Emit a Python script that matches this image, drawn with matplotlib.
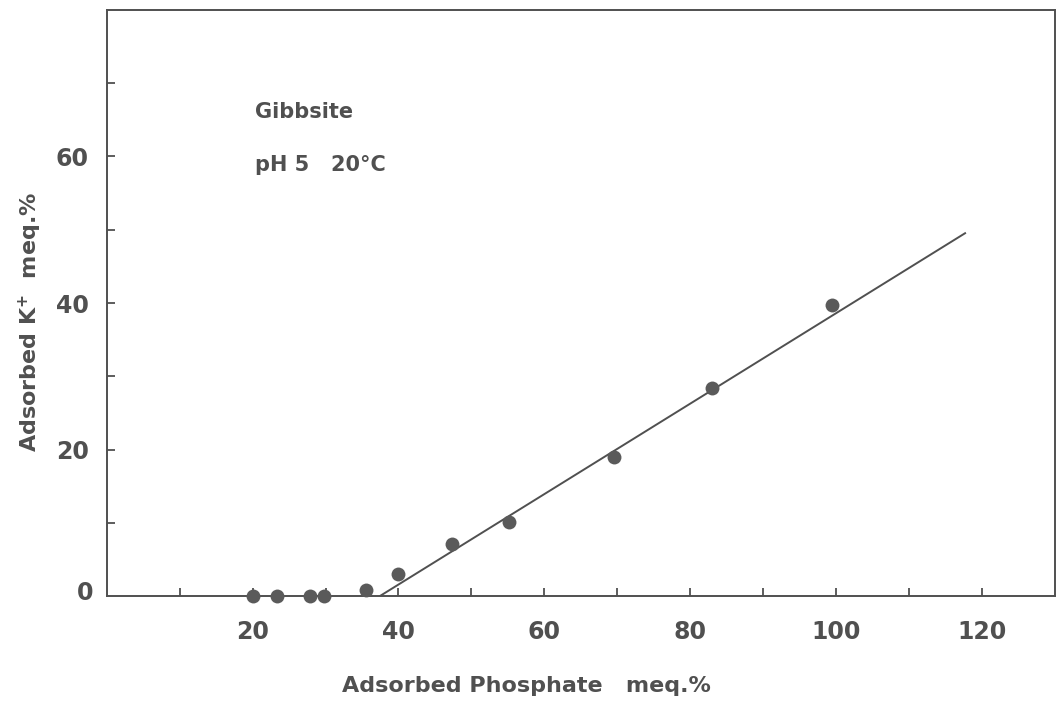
import matplotlib
matplotlib.use("Agg")
import matplotlib.pyplot as plt

# Adsorbed phosphate vs adsorbed K+ on gibbsite (meq.%)
phosphate = [20.0, 23.4, 27.9, 29.8, 35.6, 40.0, 47.4, 55.2, 69.6, 83.0, 99.5]
potassium = [0.0, 0.0, 0.0, 0.0, 0.9, 3.1, 7.2, 10.2, 19.0, 28.4, 39.8]

# fitted straight line endpoints
fit_x = [37.4, 117.8]
fit_y = [0.0, 49.6]

x_ticks = list(range(10, 130, 10))
x_labels = ["" if v % 20 else str(v) for v in x_ticks]
y_ticks = list(range(10, 80, 10))
y_labels = ["" if v % 20 else str(v) for v in y_ticks]

ink = "#505050"
plt.rcParams["font.family"] = ["DejaVu Sans"]
plt.rcParams["font.weight"] = "bold"
plt.rcParams["axes.labelweight"] = "bold"

fig = plt.figure(figsize=(10.57, 7.04), dpi=100)
ax = fig.add_axes([0.101, 0.153, 0.897, 0.833])

ax.plot(fit_x, fit_y, color=ink, lw=1.4, solid_capstyle="butt")
ax.plot(phosphate, potassium, "o", color="#5a5a5a", ms=10, mec="none", clip_on=False, zorder=3)

ax.set_xlim(0, 130)
ax.set_ylim(0, 80)
ax.set_xticks(x_ticks)
ax.set_xticklabels(x_labels)
ax.set_yticks(y_ticks)
ax.set_yticklabels(y_labels)
ax.tick_params(direction="in", length=6, width=1.3, color=ink, labelcolor=ink,
               labelsize=17)
ax.tick_params(axis="x", pad=17)
ax.tick_params(axis="y", pad=13)

for side in ax.spines.values():
    side.set_color(ink)
    side.set_linewidth(1.4)

ax.text(-1.8, 0.5, "0", ha="right", va="center", fontsize=17, color=ink)

ax.set_xlabel("Adsorbed Phosphate   meq.%", fontsize=16, color=ink, va="center",
              fontweight="bold")
ax.xaxis.set_label_coords(0.443, -0.153)
ax.set_ylabel("Adsorbed K$^\\mathbf{+}$  meq.%", fontsize=16, color=ink, va="center",
              fontweight="bold")
ax.yaxis.set_label_coords(-0.081, 0.468)

ax.text(20.3, 66.1, "Gibbsite", fontsize=15, color=ink, va="center", ha="left")
ax.text(20.3, 58.9, "pH 5   20°C", fontsize=15, color=ink, va="center", ha="left")

fig.savefig("out.png", dpi=100, facecolor="white")
